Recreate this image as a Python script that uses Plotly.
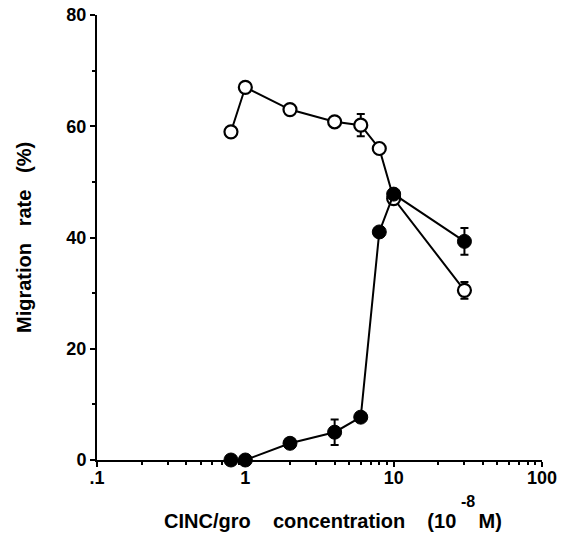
import plotly.graph_objects as go

conc = [0.8, 1, 2, 4, 6, 8, 10, 30]
open_vals = [59, 67, 63, 60.8, 60.2, 56, 47, 30.5]
open_err = [0, 0, 0, 0, 2, 0, 0, 1.5]
filled_vals = [0, 0, 3, 5, 7.7, 41, 47.8, 39.3]
filled_err = [0, 0, 0, 2.3, 0, 0, 0, 2.4]

x_major = [0.1, 1, 10, 100]
x_major_text = [".1", "1", "10", "100"]
x_minor = [m * d for d in (0.1, 1, 10) for m in range(2, 10)]
y_major = [0, 20, 40, 60, 80]
y_minor = [10, 30, 50, 70]

font_fam = "Liberation Sans, Arial, Helvetica, sans-serif"

fig = go.Figure()
fig.add_trace(go.Scatter(
    x=conc, y=open_vals, mode="lines+markers",
    line=dict(color="black", width=2),
    marker=dict(symbol="circle", size=13, color="white", line=dict(color="black", width=2.2)),
    error_y=dict(type="data", array=open_err, visible=True, color="black", thickness=2, width=4),
    cliponaxis=False, showlegend=False,
))
fig.add_trace(go.Scatter(
    x=conc, y=filled_vals, mode="lines+markers",
    line=dict(color="black", width=2),
    marker=dict(symbol="circle", size=14, color="black", line=dict(color="black", width=1)),
    error_y=dict(type="data", array=filled_err, visible=True, color="black", thickness=2, width=4),
    cliponaxis=False, showlegend=False,
))

fig.update_xaxes(
    type="log", range=[-1, 2], automargin=False,
    showgrid=False, zeroline=False,
    showline=True, linecolor="black", linewidth=2,
    tickmode="array", tickvals=x_major, ticktext=x_major_text,
    ticks="outside", ticklen=5, tickwidth=2, tickcolor="black",
    ticklabelstandoff=-5,
    minor=dict(tickmode="array", tickvals=x_minor, ticks="outside", ticklen=3, tickwidth=2, tickcolor="black"),
    tickfont=dict(family=font_fam, size=18, color="black", weight="bold"),
)
fig.update_yaxes(
    range=[0, 80], automargin=False,
    showgrid=False, zeroline=False,
    showline=True, linecolor="black", linewidth=2,
    tickmode="array", tickvals=y_major,
    ticks="outside", ticklen=5, tickwidth=2, tickcolor="black",
    minor=dict(tickmode="array", tickvals=y_minor, ticks="outside", ticklen=3, tickwidth=2, tickcolor="black"),
    tickfont=dict(family=font_fam, size=18, color="black", weight="bold"),
)

sp = "&nbsp;" * 4
fig.add_annotation(
    text="CINC/gro" + sp + "concentration" + sp + "(10" + sp + "M)",
    xref="paper", yref="paper", x=0.53, y=-0.136, xanchor="center", yanchor="middle",
    showarrow=False, font=dict(family=font_fam, size=20, color="black", weight="bold"),
)
fig.add_annotation(
    text="Migration" + "&nbsp;" * 3 + "rate" + "&nbsp;" * 3 + "(%)",
    xref="paper", yref="paper", x=-0.164, y=0.499, xanchor="center", yanchor="middle",
    textangle=-90, showarrow=False, font=dict(family=font_fam, size=20, color="black", weight="bold"),
)
fig.add_annotation(
    text="-8", xref="paper", yref="paper", x=0.834, y=-0.094, xanchor="center", yanchor="middle",
    showarrow=False, font=dict(family=font_fam, size=16, color="black", weight="bold"),
)

fig.update_layout(
    width=563, height=536,
    margin=dict(l=97, r=21, t=15, b=76),
    plot_bgcolor="white", paper_bgcolor="white",
)

# remove the page's default body margin so the figure fills the window exactly
fig.write_html("out.html", config={"displayModeBar": False},
               post_script="document.body.style.margin='0px';")
